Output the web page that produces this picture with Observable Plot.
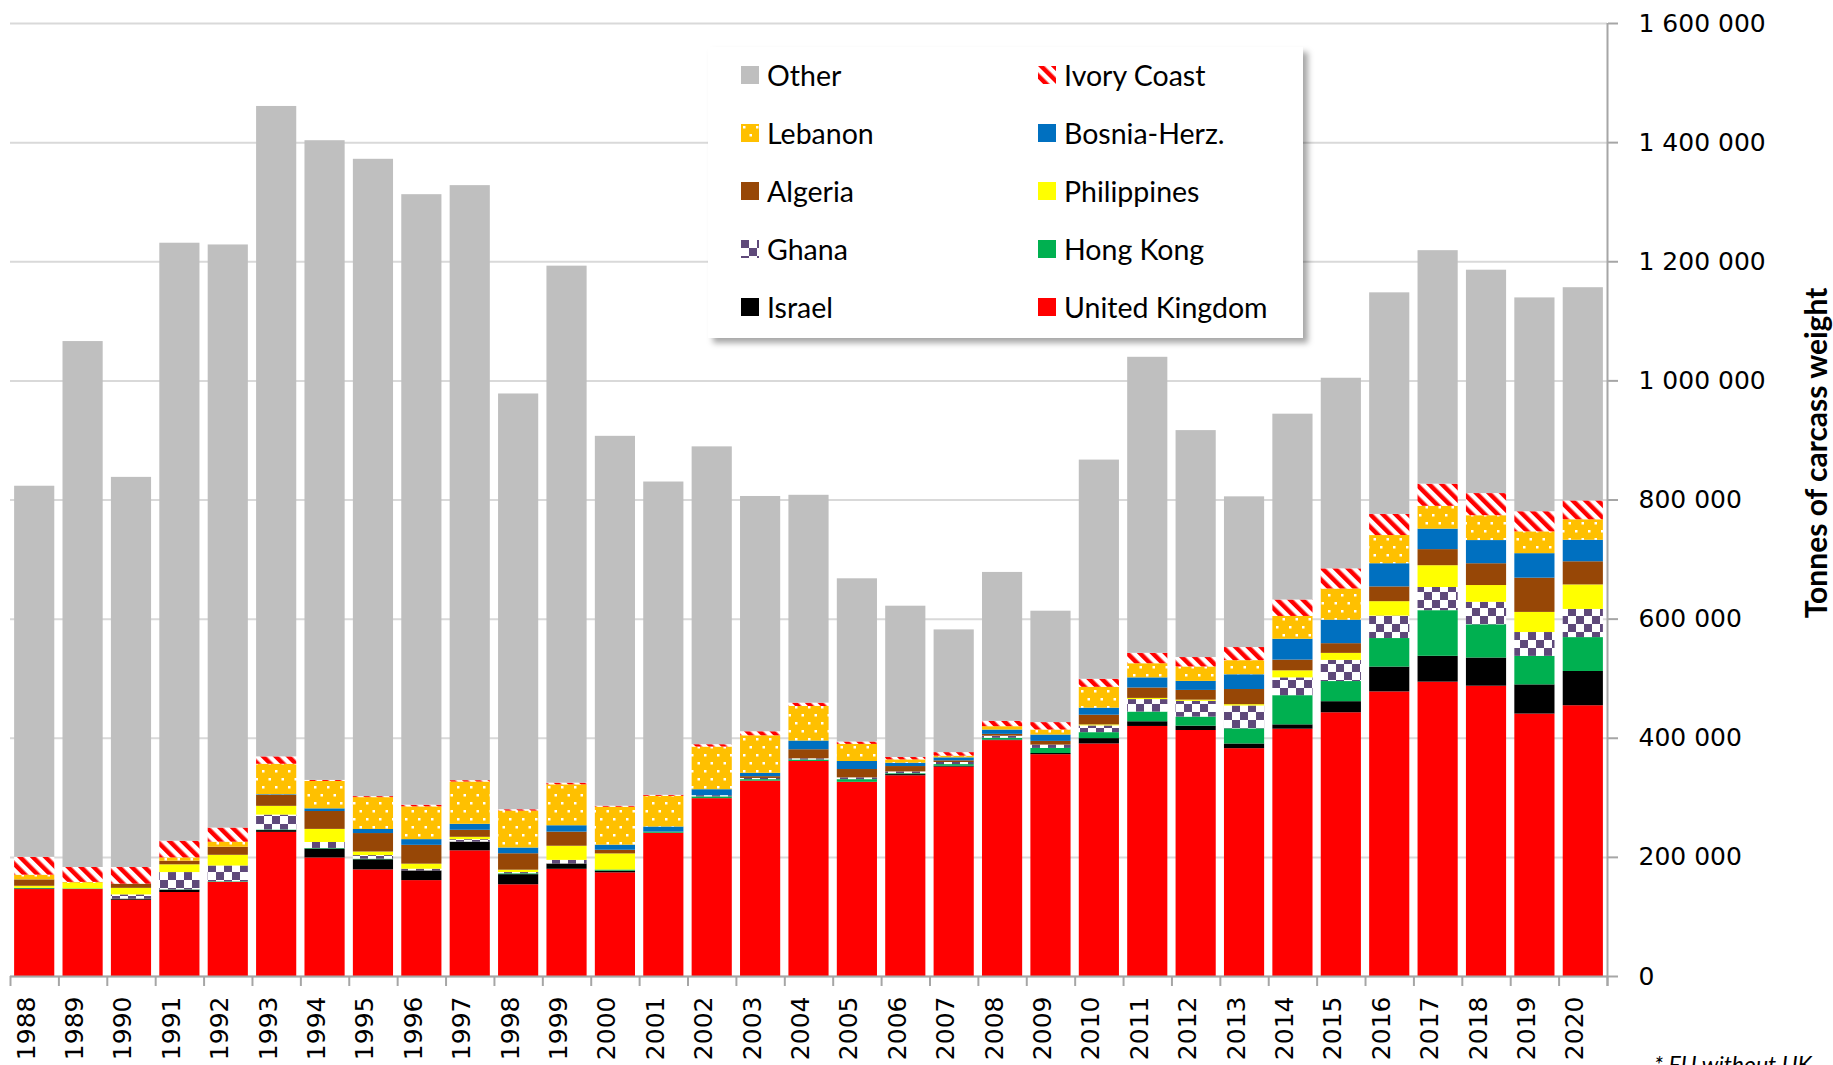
<!DOCTYPE html>
<html>
<head>
<meta charset="utf-8">
<script src="https://cdn.jsdelivr.net/npm/d3@7"></script>
<script src="https://cdn.jsdelivr.net/npm/@observablehq/plot@0.6"></script>
<style>
html, body { margin: 0; padding: 0; overflow: hidden; background: #fff; }
#wrap { position: relative; width: 1833px; height: 1065px; overflow: hidden; }
#chart { position: absolute; left: 0; top: 0; }
#legend { position: absolute; left: 708px; top: 47px; width: 595px; height: 291px; background: #fff;
  box-shadow: 5px 5px 6px rgba(0,0,0,0.35); font-family: Lato, "Open Sans", sans-serif; font-size: 28.5px; color: #000; }
.item { position: absolute; height: 40px; display: flex; align-items: center; white-space: nowrap; }
.item svg { margin-right: 8px; flex: none; }
#note { position: absolute; left: 1654px; top: 1050px; font-family: Lato, sans-serif; font-style: italic; font-size: 23px; color: #000; white-space: nowrap; }
#ytitle { position: absolute; left: 1815px; top: 453px; transform: translate(-50%, -50%) rotate(-90deg);
  font-family: Lato, sans-serif; font-weight: bold; font-size: 30px; color: #000; white-space: nowrap; }
</style>
</head>
<body>
<svg width="0" height="0" style="position:absolute">
  <defs>
    <pattern id="pIvory" patternUnits="userSpaceOnUse" width="9" height="9" patternTransform="rotate(-45)">
      <rect width="9" height="9" fill="#ffffff"></rect>
      <rect width="4.5" height="9" fill="#ff0000"></rect>
    </pattern>
    <pattern id="pLebanon" patternUnits="userSpaceOnUse" width="13" height="16">
      <rect width="13" height="16" fill="#ffc000"></rect>
      <rect x="2" y="2" width="2.5" height="2.5" fill="#ffffff"></rect>
      <rect x="8.5" y="10" width="2.5" height="2.5" fill="#ffffff"></rect>
    </pattern>
    <pattern id="pGhana" patternUnits="userSpaceOnUse" width="16" height="16">
      <rect width="16" height="16" fill="#ffffff"></rect>
      <rect width="8" height="8" fill="#5f497a"></rect>
      <rect x="8" y="8" width="8" height="8" fill="#5f497a"></rect>
    </pattern>
  </defs>
</svg>
<div id="wrap">
  <div id="chart"></div>
  <div id="legend"></div>
  <div id="ytitle"></div>
  <div id="note">* EU without UK</div>
</div>
<script>
// ---- data (thousand tonnes carcass weight) ----
const years = [1988,1989,1990,1991,1992,1993,1994,1995,1996,1997,1998,1999,2000,2001,2002,2003,2004,2005,2006,2007,2008,2009,2010,2011,2012,2013,2014,2015,2016,2017,2018,2019,2020];

const unitedKingdom = [146,146,128,141,158,242,199,179,161,211,154,180,174,240.5,298.6,328,361,326,337,351.5,396,372.4,390.4,419.8,413,382.5,415.2,442.8,477.8,494.2,487.4,440.6,454.6];
const israel        = [1,0,2,4,0,3,15,17,16.3,14.7,17,9,2.8,0,0,0,0,0,2,1.5,1,2,9,7.9,7.3,7.9,7.3,18.6,41.7,43.4,47.3,49,57.5];
const hongKong      = [1,1,0,0.5,1,1,1,1,0,0,1.5,0,2,2,3,2.5,2.5,4.5,1.5,2.8,3,8.5,10,16.3,15.2,25.4,49,33.8,47.9,76.6,55.8,47.9,56.9];
const ghana         = [0,0,7,29,26.5,25,10,6,2.8,4,2,6,0,0,2,2,2,3,3,3.5,3.5,5.6,11.3,20.9,26.5,38.3,29.9,35.5,37.7,38.9,37.7,40,47.3];
const philippines   = [3.5,9.5,11,13,18,14.7,22,6,8.5,4,4,23.7,27,0,0,0,0,0,0,0,0,0,1.7,2,2,2.3,11.8,11.8,24.2,36.6,28.2,33.8,41.1];
const algeria       = [10.7,0,7,6,13.5,18.6,30,31,31.6,11.8,27.6,23.7,6.2,0,0,3,15.2,14,9,2.8,3,6.2,16.3,17.5,16.3,25.4,18,16.3,24.8,27,36.6,57.5,38.9];
const bosnia        = [0,0,0,0,0,1,4.5,6.8,9.6,10,9.6,10.7,8.5,8.5,10,5.6,14.6,13.5,5.6,5,7.3,10.7,11.8,17,15.2,24.8,35,39.4,38.9,34.4,38.9,41.1,36.1];
const lebanon       = [7.9,1.5,0,5.6,8.5,51,46,53.5,55,71,62,68.7,63.7,51.5,71.6,63,58,28.7,5.6,2.8,5.6,8.5,35,23.7,24.2,23.7,38.3,52.4,47.3,38.3,41.7,36.6,34.4];
const ivoryCoast    = [30,25,28,28,23.7,12.4,1.7,1.7,2.8,2.3,2.3,2.8,1.7,1.7,4,6.8,5.6,4,4,6,9,12.4,13.5,17.5,15.8,22,27.6,33.8,35.5,37.2,37.2,33.8,31.6];
const other         = [623,883,655,1004,979,1092,1074,1070,1025,999,698,868,621,526,500,395,349,274,254,206,250,187,368,497,381,253,312,320,372,392,375,359,358];

const seriesNames = ["United Kingdom","Israel","Hong Kong","Ghana","Philippines","Algeria","Bosnia-Herz.","Lebanon","Ivory Coast","Other"];
const seriesValues = [unitedKingdom, israel, hongKong, ghana, philippines, algeria, bosnia, lebanon, ivoryCoast, other];
const yTicks = [0,200000,400000,600000,800000,1000000,1200000,1400000,1600000];
const yTitle = "Tonnes of carcass weight";
const legendColumns = [["Other","Lebanon","Algeria","Ghana","Israel"],["Ivory Coast","Bosnia-Herz.","Philippines","Hong Kong","United Kingdom"]];

// ---- styles ----
const seriesFills = ["#ff0000","#000000","#00b050","url(#pGhana)","#ffff00","#974706","#0070c0","url(#pLebanon)","url(#pIvory)","#bfbfbf"];
const fillOf = Object.fromEntries(seriesNames.map((s, k) => [s, seriesFills[k]]));

const table = [];
years.forEach((yr, i) => {
  seriesNames.forEach((s, k) => {
    table.push({year: yr, series: s, value: seriesValues[k][i] * 1000});
  });
});

const W = 1833, H = 1065, mL = 10, mR = 226, mT = 23, mB = 89;
const step = (W - mL - mR) / years.length;
const axisGray = "#a6a6a6";
const tickFont = "DejaVu Sans";
const fmt = d => d3.format(",")(d).replace(/,/g, " ");

const chart = Plot.plot({
  width: W, height: H,
  marginLeft: mL, marginRight: mR, marginTop: mT, marginBottom: mB,
  style: {fontFamily: tickFont, background: "transparent", color: "#000"},
  x: {type: "band", domain: years, paddingInner: 0.17, paddingOuter: 0.085, round: false, axis: null},
  y: {domain: [0, 1600000], axis: null},
  color: {type: "ordinal", domain: seriesNames, range: seriesFills},
  marks: [
    Plot.gridY({ticks: yTicks, stroke: "#d9d9d9", strokeOpacity: 1, strokeWidth: 2}),
    Plot.barY(table, {x: "year", y: "value", fill: "series"}),
    Plot.ruleY([0], {stroke: axisGray, strokeWidth: 2}),
    Plot.ruleX([years[years.length - 1]], {dx: step / 2, insetBottom: -10, stroke: axisGray, strokeWidth: 2}),
    Plot.axisY({anchor: "right", ticks: yTicks, tickSize: 10, tickPadding: 21, tickFormat: fmt,
      fontSize: 25, fontFamily: tickFont, stroke: axisGray, strokeWidth: 2, fill: "#000", label: null}),
    Plot.axisX({ticks: years, tickSize: 10, tickFormat: () => "", dx: step / 2, stroke: axisGray, strokeWidth: 2, label: null}),
    Plot.axisX({ticks: [years[0]], tickSize: 10, tickFormat: () => "", dx: -step / 2, stroke: axisGray, strokeWidth: 2, label: null}),
    Plot.text(years, {x: d => d, text: d => String(d), frameAnchor: "bottom", rotate: -90, textAnchor: "end",
      dy: 20, fontSize: 25, fontFamily: tickFont, fill: "#000"})
  ]
});
document.getElementById("chart").appendChild(chart);
document.getElementById("ytitle").textContent = yTitle;

// ---- legend ----
const legend = document.getElementById("legend");
const colX = [33, 330];
const rowY = [28, 86, 144, 202, 260];
legendColumns.forEach((col, c) => {
  col.forEach((name, r) => {
    const item = document.createElement("div");
    item.className = "item";
    item.style.left = colX[c] + "px";
    item.style.top = (rowY[r] - 20) + "px";
    item.innerHTML = `<svg width="18" height="18"><rect width="18" height="18" fill="${fillOf[name]}"></rect></svg><span>${name}</span>`;
    legend.appendChild(item);
  });
});
</script>
</body>
</html>
